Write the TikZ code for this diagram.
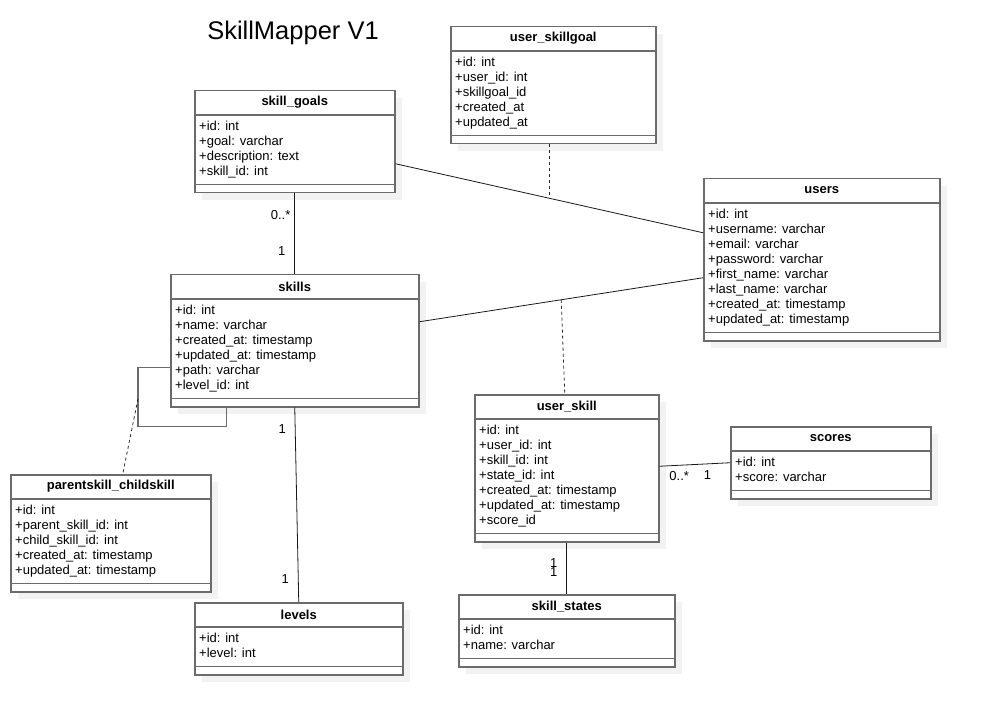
\documentclass[tikz,border=0pt]{standalone}
\usepackage{fontspec}
\setmainfont{Liberation Sans}
\usetikzlibrary{shadows}

\tikzset{
  classbox/.style={draw=black!58, line width=1.5pt, fill=white, anchor=north west, inner sep=0pt,
    drop shadow={shadow xshift=7pt, shadow yshift=-7pt, fill=black!5, opacity=1}},
  boxline/.style={draw=black!58, line width=1.5pt},
  classname/.style={font=\fontsize{13}{15}\selectfont\bfseries, inner sep=0pt},
  attrs/.style={anchor=north west, align=left, inner sep=0pt, font=\fontsize{13}{15}\selectfont},
  conn/.style={draw=black!90, line width=0.8pt},
  assoc/.style={draw=black!85, line width=0.8pt, dash pattern=on 3pt off 3pt},
  loopline/.style={draw=black!58, line width=1.4pt},
  mult/.style={font=\fontsize{13}{15}\selectfont, inner sep=0pt}
}

% name, left, top, width, height, title, attributes
\newcommand{\umlclass}[7]{%
  \node[classbox, minimum width=#4pt, minimum height=#5pt] (#1) at (#2,#3) {};
  \draw[boxline] ([yshift=-25pt]#1.north west) -- ([yshift=-25pt]#1.north east);
  \draw[boxline] ([yshift=9pt]#1.south west) -- ([yshift=9pt]#1.south east);
  \node[classname] (#1-name) at ([yshift=-12.5pt]#1.north) {#6};
  \node[attrs] (#1-attrs) at ([xshift=5pt,yshift=-31pt]#1.north west) {#7};
}

\begin{document}
\begin{tikzpicture}[x=1pt,y=-1pt]

\useasboundingbox (0,0) rectangle (986,714);

\node[font=\fontsize{25.5}{30}\selectfont, anchor=base] (title) at (293,40) {SkillMapper V1};

\umlclass{goals}{194}{90}{200}{102}{skill\_goals}{+id: int\\+goal: varchar\\+description: text\\+skill\_id: int}
\umlclass{usergoal}{450}{26}{205}{117}{user\_skillgoal}{+id: int\\+user\_id: int\\+skillgoal\_id\\+created\_at\\+updated\_at}
\umlclass{users}{703}{178}{236}{162}{users}{+id: int\\+username: varchar\\+email: varchar\\+password: varchar\\+first\_name: varchar\\+last\_name: varchar\\+created\_at: timestamp\\+updated\_at: timestamp}
\umlclass{skills}{170}{274}{248}{132}{skills}{+id: int\\+name: varchar\\+created\_at: timestamp\\+updated\_at: timestamp\\+path: varchar\\+level\_id: int}
\umlclass{parent}{10}{474}{200}{117}{parentskill\_childskill}{+id: int\\+parent\_skill\_id: int\\+child\_skill\_id: int\\+created\_at: timestamp\\+updated\_at: timestamp}
\umlclass{levels}{194}{602}{208}{72}{levels}{+id: int\\+level: int}
\umlclass{userskill}{474}{394}{184}{147}{user\_skill}{+id: int\\+user\_id: int\\+skill\_id: int\\+state\_id: int\\+created\_at: timestamp\\+updated\_at: timestamp\\+score\_id}
\umlclass{scores}{730}{426}{200}{72}{scores}{+id: int\\+score: varchar}
\umlclass{states}{458}{594}{216}{72}{skill\_states}{+id: int\\+name: varchar}

% associations
\draw[conn] ([yshift=-22pt]goals.east) -- coordinate[pos=0.5] (goalmid) ([yshift=27pt]users.west);
\draw[conn] ([yshift=19pt]skills.east) -- coordinate[pos=0.5] (skillmid) ([yshift=-18pt]users.west);
\draw[assoc] (usergoal.south -| goalmid) -- (goalmid);
\draw[assoc] (skillmid) -- ([xshift=-2pt]userskill.north);

% self reference on skills
\draw[loopline] ([yshift=-27pt]skills.west) -- ++(-32,0) -- ++(0,31) coordinate (loopmid) -- ++(0,28) -| ([xshift=-68pt]skills.south);
\draw[assoc] (loopmid) -- ([xshift=12pt]parent.north);

\draw[conn] (goals.south) -- node[mult, pos=0.27, left=4pt] {0..*} node[mult, pos=0.72, left=9pt] {1} (skills.north);
\draw[conn] (skills.south) -- node[mult, pos=0.11, left=9pt] {1} node[mult, pos=0.88, left=9pt] {1} (levels.north);
\draw[conn] ([yshift=2pt]userskill.east) -- node[mult, pos=0.28, below=6pt] {0..*} node[mult, pos=0.68, below=6pt] {1} (scores.west);
\draw[conn] (userskill.south) -- node[mult, pos=0.4, left=9pt] {1} node[mult, pos=0.57, left=9pt] {1} (states.north);

\end{tikzpicture}
\end{document}
